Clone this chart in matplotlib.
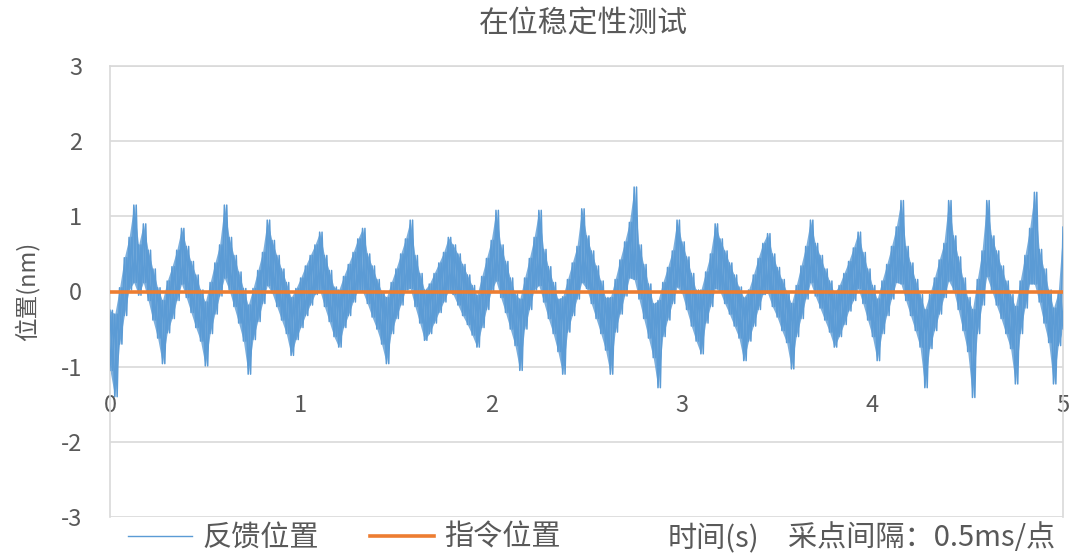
import matplotlib
matplotlib.use("Agg")
import matplotlib.pyplot as plt
import numpy as np

plt.rcParams['font.family'] = ['Noto Sans CJK SC', 'DejaVu Sans']
plt.rcParams['axes.unicode_minus'] = False

TITLE = "在位稳定性测试"
YLABEL = "位置(nm)"
LEGEND_LABELS = ["反馈位置", "指令位置"]
NOTE_TIME = "时间(s)"
NOTE_RATE = "采点间隔：0.5ms/点"

X_TICKS = [0, 1, 2, 3, 4, 5]
Y_TICKS = [-3, -2, -1, 0, 1, 2, 3]

# feedback position every 0.025 s:
# upper and lower reach of the noisy trace (nm)
FB_HI = [-0.25, -0.30, 0.05, 0.45, 0.72, 1.15, 0.62, 0.90, 0.55, 0.30,
         0.05, -0.12, 0.14, 0.33, 0.55, 0.84, 0.60, 0.40, 0.22, 0.02,
         -0.14, 0.12, 0.38, 0.62, 1.15, 0.72, 0.48, 0.26, 0.04, -0.18,
         0.04, 0.28, 0.52, 0.95, 0.68, 0.48, 0.30, 0.12, -0.08, 0.04,
         0.18, 0.34, 0.48, 0.62, 0.79, 0.48, 0.28, 0.06, 0.02, 0.20,
         0.36, 0.52, 0.70, 0.84, 0.50, 0.34, 0.16, 0.00, -0.08, 0.12,
         0.30, 0.50, 0.70, 0.95, 0.48, 0.24, 0.02, 0.10, 0.24, 0.38,
         0.52, 0.72, 0.62, 0.50, 0.36, 0.22, 0.08, -0.05, 0.20, 0.44,
         0.68, 1.08, 0.62, 0.40, 0.18, -0.03, -0.10, 0.18, 0.44, 0.72,
         1.08, 0.56, 0.33, 0.12, -0.10, -0.07, 0.16, 0.38, 0.60, 1.10,
         0.74, 0.54, 0.34, 0.14, -0.08, -0.08, 0.16, 0.42, 0.66, 0.92,
         1.39, 0.62, 0.36, 0.10, -0.16, -0.12, 0.12, 0.32, 0.54, 0.95,
         0.66, 0.46, 0.24, 0.02, 0.02, 0.26, 0.50, 0.90, 0.70, 0.54,
         0.38, 0.22, 0.06, -0.08, 0.02, 0.22, 0.44, 0.64, 0.77, 0.50,
         0.32, 0.16, 0.00, -0.16, 0.08, 0.34, 0.60, 0.95, 0.64, 0.48,
         0.30, 0.14, -0.02, 0.08, 0.24, 0.40, 0.58, 0.79, 0.52, 0.30,
         0.08, -0.10, 0.14, 0.36, 0.60, 0.86, 1.21, 0.60, 0.38, 0.16,
         -0.04, -0.24, -0.04, 0.18, 0.42, 0.64, 1.21, 0.74, 0.46, 0.18,
         -0.08, -0.24, 0.16, 0.54, 1.21, 0.74, 0.54, 0.34, 0.14, -0.04,
         -0.20, 0.14, 0.48, 0.84, 1.32, 0.56, 0.30, 0.02, -0.22, 0.00,
         0.86]
FB_LO = [-1.05, -1.40, -0.70, -0.32, 0.02, 0.12, -0.05, 0.12, -0.12, -0.38,
         -0.62, -0.96, -0.55, -0.36, -0.12, 0.10, -0.08, -0.28, -0.48, -0.66,
         -0.99, -0.56, -0.30, -0.06, 0.18, 0.02, -0.20, -0.42, -0.66, -1.10,
         -0.64, -0.40, -0.16, 0.08, -0.02, -0.20, -0.38, -0.56, -0.85, -0.64,
         -0.48, -0.32, -0.18, -0.04, 0.02, -0.20, -0.40, -0.60, -0.74, -0.48,
         -0.32, -0.14, 0.02, 0.00, -0.16, -0.34, -0.50, -0.70, -0.96, -0.56,
         -0.36, -0.18, 0.02, 0.04, -0.20, -0.42, -0.65, -0.56, -0.42, -0.28,
         -0.14, 0.00, -0.04, -0.18, -0.32, -0.44, -0.58, -0.74, -0.48, -0.24,
         0.00, 0.14, -0.08, -0.28, -0.50, -0.72, -1.05, -0.50, -0.24, 0.02,
         0.08, -0.14, -0.36, -0.56, -0.80, -1.10, -0.54, -0.32, -0.10, 0.12,
         0.04, -0.16, -0.36, -0.56, -0.78, -1.10, -0.54, -0.30, -0.06, 0.18,
         0.16, -0.10, -0.36, -0.62, -0.88, -1.28, -0.60, -0.38, -0.16, 0.06,
         -0.02, -0.24, -0.46, -0.66, -0.83, -0.42, -0.20, 0.04, 0.00, -0.16,
         -0.30, -0.46, -0.62, -0.92, -0.66, -0.46, -0.24, -0.04, -0.02, -0.20,
         -0.34, -0.52, -0.68, -1.03, -0.60, -0.36, -0.10, 0.12, -0.06, -0.22,
         -0.38, -0.54, -0.74, -0.60, -0.44, -0.26, -0.12, 0.04, -0.16, -0.38,
         -0.60, -0.92, -0.56, -0.32, -0.10, 0.12, 0.10, -0.12, -0.32, -0.52,
         -0.74, -1.28, -0.76, -0.52, -0.30, -0.08, 0.14, 0.02, -0.24, -0.52,
         -0.80, -1.41, -0.56, -0.18, 0.20, 0.02, -0.18, -0.36, -0.56, -0.76,
         -1.23, -0.56, -0.22, 0.10, 0.10, -0.14, -0.42, -0.68, -1.23, -0.72,
         -0.50]
CMD_POS = [0.0, 0.0]
CMD_T = [0, 5]

BLUE = '#5B9BD5'
ORANGE = '#ED7D31'
GRID = '#D9D9D9'
TEXT = '#595959'

t = np.linspace(0, 5, len(FB_HI))
half = (t[1] - t[0]) / 2
xz = np.column_stack([t, t + half]).ravel()
zz1 = np.column_stack([FB_HI, FB_LO]).ravel()
zz2 = np.column_stack([FB_LO, FB_HI]).ravel()

fig = plt.figure(figsize=(10.7, 5.53), dpi=100)
ax = fig.add_axes([110 / 1070, 1 - 517 / 553, 953 / 1070, 451 / 553])

ax.fill_between(t, FB_LO, FB_HI, color=BLUE, alpha=0.8, lw=0, zorder=2)
ax.plot(xz, zz1, color=BLUE, lw=1.1, zorder=3)
ax.plot(xz, zz2, color=BLUE, lw=1.1, zorder=3)
ax.plot(CMD_T, CMD_POS, color=ORANGE, lw=2.6, zorder=4)

ax.set_xlim(0, 5)
ax.set_ylim(-3, 3)
ax.set_xticks(X_TICKS)
ax.set_yticks(Y_TICKS)
ax.grid(axis='y', color=GRID, lw=1.2, zorder=0)
ax.set_axisbelow(True)

for side in ['left', 'right', 'top']:
    ax.spines[side].set_color(GRID)
    ax.spines[side].set_linewidth(1.2)
ax.spines['bottom'].set_position(('data', -1.25))
ax.spines['bottom'].set_visible(False)

ax.tick_params(axis='y', length=0, pad=20, labelsize=17, labelcolor=TEXT)
ax.tick_params(axis='x', length=0, pad=6, labelsize=17, labelcolor=TEXT)

ax.set_ylabel(YLABEL, fontsize=17, color=TEXT)
ax.yaxis.set_label_coords(-0.0735, 0.5)

fig.text(583.5 / 1070, 1 - 24 / 553, TITLE, ha='center', va='center',
         fontsize=21.5, color=TEXT)

h1, = ax.plot([], [], color=BLUE, lw=1.0)
h2, = ax.plot([], [], color=ORANGE, lw=2.6)
fig.legend([h1, h2], LEGEND_LABELS, loc='center left',
           bbox_to_anchor=(128 / 1070, 1 - 538 / 553), ncol=2, frameon=False,
           fontsize=21, labelcolor=TEXT, handlelength=2.2, handletextpad=0.35,
           columnspacing=1.75, borderpad=0, borderaxespad=0)

fig.text(668 / 1070, 1 - 538 / 553, NOTE_TIME, ha='left', va='center',
         fontsize=21, color=TEXT)
fig.text(788 / 1070, 1 - 538 / 553, NOTE_RATE, ha='left', va='center',
         fontsize=21, color=TEXT)

fig.savefig('out.png', dpi=100, facecolor='white')
